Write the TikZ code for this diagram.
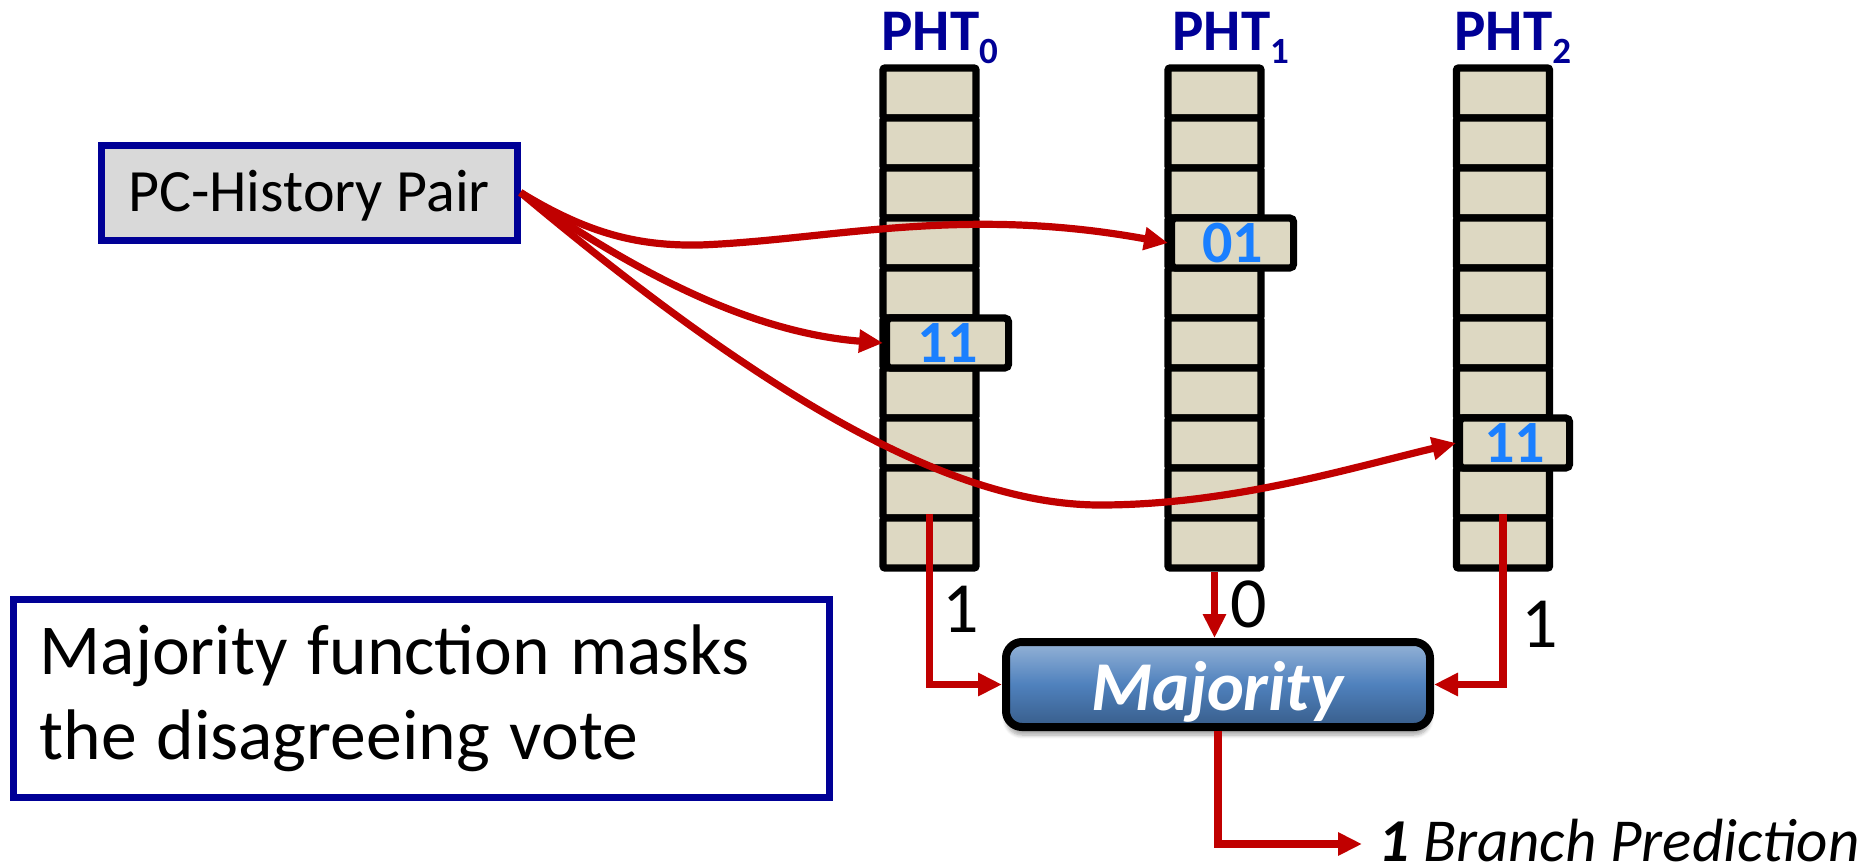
\documentclass[tikz,border=0pt]{standalone}
\usepackage{fontspec}
\setmainfont{Carlito}
\usetikzlibrary{arrows.meta,shadows.blur}

\definecolor{navy}{RGB}{0,0,150}
\definecolor{cellfill}{RGB}{221,216,194}
\definecolor{hitblue}{RGB}{26,127,255}
\definecolor{wire}{RGB}{192,0,0}
\definecolor{pairgray}{RGB}{217,217,217}
\definecolor{majtop}{RGB}{149,179,215}
\definecolor{majmid}{RGB}{79,129,189}
\definecolor{majbot}{RGB}{56,93,138}

\tikzset{
  cell/.style={draw=black, line width=3.6pt, fill=cellfill, rounded corners=1pt,
    minimum width=46.5pt, minimum height=25pt, inner sep=0pt},
  hitcell/.style={cell, rounded corners=2pt, anchor=west, text=hitblue,
    font=\bfseries\fontsize{30pt}{30pt}\selectfont},
  phtlabel/.style={anchor=base west, inner sep=0pt, text=navy,
    font=\bfseries\fontsize{29.5pt}{30pt}\selectfont},
  pairbox/.style={draw=navy, line width=3.5pt, fill=pairgray,
    minimum width=208pt, minimum height=47.5pt, inner sep=0pt,
    text height=19.2pt, text depth=0pt, font=\fontsize{30pt}{30pt}\selectfont},
  notebox/.style={draw=navy, line width=3.5pt, fill=white, align=left,
    text width=382pt, inner xsep=13pt, minimum height=99pt,
    font=\fontsize{35.8pt}{42.5pt}\selectfont,
    execute at begin node={\spaceskip=10pt\relax}},
  majbox/.style={draw=black, line width=4pt, rounded corners=8pt,
    top color=majtop, bottom color=majbot, middle color=majmid,
    minimum width=212pt, minimum height=42.5pt, inner sep=0pt,
    text=white, text height=25.5pt, text depth=0pt,
    font=\bfseries\itshape\fontsize{35pt}{36pt}\selectfont,
    blur shadow={shadow xshift=0pt, shadow yshift=-4pt, shadow opacity=35, shadow blur steps=6}},
  vote/.style={anchor=base, inner sep=0pt, font=\fontsize{36pt}{36pt}\selectfont},
  wire/.style={draw=wire, line width=3.6pt, -{Triangle[length=12pt,width=11pt]}},
}

\newcommand{\phtsub}[1]{\raisebox{-6.5pt}{\fontsize{18.5pt}{18.5pt}\selectfont #1}}

\begin{document}
\begin{tikzpicture}[x=0.5pt, y=-0.5pt]
  \useasboundingbox (0,0) rectangle (1868,867);

  % the three pattern history tables, ten entries each
  \foreach \k/\cx in {0/929.5, 1/1214.5, 2/1503} {
    \foreach \i in {0,...,9} {
      \node[cell] (c\k-\i) at (\cx, 93+50*\i) {};
    }
  }

  % entries selected by the PC-history pair
  \node[hitcell, minimum width=61pt] (h0) at (883,343) {11};
  \node[hitcell, minimum width=61pt] (h1) at (1168,243) {01};
  \node[hitcell, minimum width=55pt] (h2) at (1456,443) {11};

  % table titles
  \node[phtlabel] (t0) at (881,50) {PHT\phtsub{0}};
  \node[phtlabel] (t1) at (1172,50) {PHT\phtsub{1}};
  \node[phtlabel] (t2) at (1454,50) {PHT\phtsub{2}};

  % index source
  \node[pairbox] (pc) at (309,192.5) {PC-History Pair};

  % voter and explanatory note
  \node[majbox] (maj) at (1218,684.5) {Majority\/};
  \node[notebox] (note) at (421.5,698) {Majority function masks\\the disagreeing vote};

  % final output
  \node[anchor=west, inner xsep=8pt, inner ysep=0pt, text height=17pt, text depth=0pt,
        font=\itshape\fontsize{30.5pt}{31pt}\selectfont] (out) at (1362,844)
        {{\bfseries 1} Branch Prediction};

  % indexing curves
  \coordinate (dip1) at (700,245);
  \coordinate (dip3) at (1100,505);
  \draw[wire] (pc.east) .. controls (590,235) and (640,246) .. (dip1)
              .. controls (830,240) and (960,205) .. (h1.west);
  \draw[wire] (pc.east) .. controls (643,278) and (756,333) .. (h0.west);
  \draw[wire] (pc.east) .. controls (780,410) and (960,505) .. (dip3)
              .. controls (1230,505) and (1350,468) .. (h2.west);

  % votes into the majority function
  \draw[wire] (c0-9.north) |- (maj.west);
  \draw[wire] (c1-9.south) -- (c1-9.south |- maj.north);
  \draw[wire] (c2-9.north) |- (maj.east);
  \draw[wire] (maj.south) |- (out.west);

  \node[vote] (v0) at (961,632) {1};
  \node[vote] (v1) at (1249,627) {0};
  \node[vote] (v2) at (1540,647) {1};
\end{tikzpicture}
\end{document}
